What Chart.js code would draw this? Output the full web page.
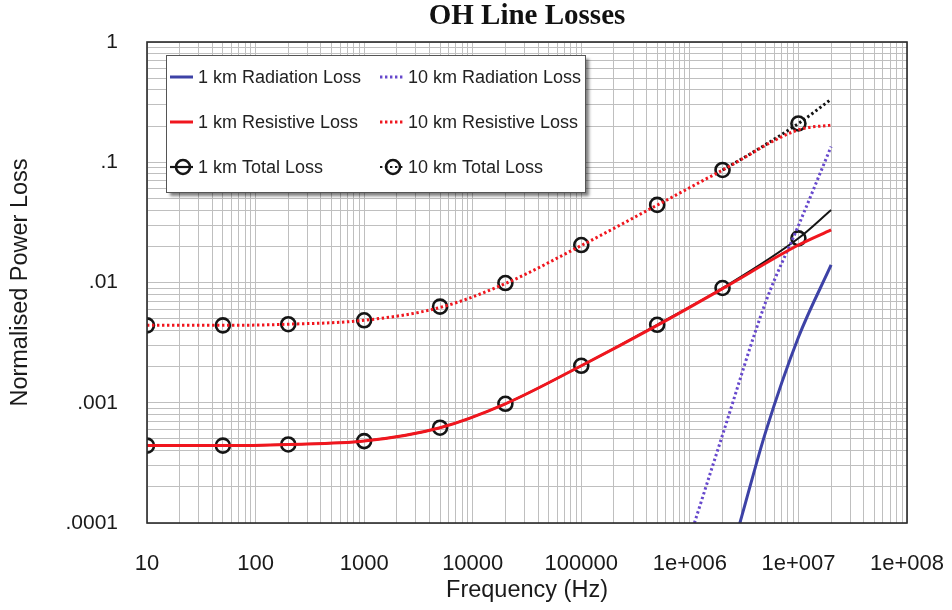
<!DOCTYPE html>
<html>
<head>
<meta charset="utf-8">
<script src="https://cdn.jsdelivr.net/npm/chart.js@4/dist/chart.umd.min.js"></script>
<style>
  html, body { margin: 0; padding: 0; background: #fff; }
  #wrap { width: 952px; height: 610px; }
</style>
</head>
<body>
<div id="wrap"><canvas id="c" width="952" height="610"></canvas></div>
<script>
// Labels
const chartTitle = 'OH Line Losses';
const xTitle = 'Frequency (Hz)';
const yTitle = 'Normalised Power Loss';
const xTickValues = [10, 100, 1000, 1e4, 1e5, 1e6, 1e7, 1e8];
const xTickLabels = ['10', '100', '1000', '10000', '100000', '1e+006', '1e+007', '1e+008'];
const yTickValues = [1e-4, 1e-3, 1e-2, 1e-1, 1];
const yTickLabels = ['.0001', '.001', '.01', '.1', '1'];

// Resistive and total losses (Hz / normalised power)
const freq = [10, 50, 200, 1000, 5000, 20000, 1e5, 5e5, 2e6, 1e7, 2e7];
const resistive1km  = [4.4e-4, 4.4e-4, 4.5e-4, 4.8e-4, 6.2e-4, 9.8e-4, 2.03e-3, 4.4e-3, 8.9e-3, 0.0205, 0.0274];
const total1km      = [4.4e-4, 4.4e-4, 4.5e-4, 4.8e-4, 6.2e-4, 9.8e-4, 2.03e-3, 4.45e-3, 9.0e-3, 0.0233, 0.0401];
const resistive10km = [4.4e-3, 4.4e-3, 4.5e-3, 4.85e-3, 6.2e-3, 9.8e-3, 0.0203, 0.044, 0.086, 0.186, 0.204];
const total10km     = [4.4e-3, 4.4e-3, 4.5e-3, 4.85e-3, 6.3e-3, 9.9e-3, 0.0205, 0.0442, 0.0863, 0.21, 0.334];

// Radiation losses
const radFreq1km  = [2e6, 3e6, 5e6, 1e7, 2e7];
const radiation1km  = [3.1e-5, 1.13e-4, 5.75e-4, 3.5e-3, 0.014];
const radFreq10km = [1e6, 2e6, 5e6, 1e7, 2e7];
const radiation10km = [7.6e-5, 5.4e-4, 6.9e-3, 0.0297, 0.135];

const FONT = "'Liberation Sans', Arial, sans-serif";
const BLUE = '#3d42a6';
const PURPLE = '#6648cc';
const RED = '#f0161e';
const BLACK = '#151515';
const GRID = '#bfbfbf';
const DOT = [2.4, 2.6];

const pts = (xs, ys) => xs.map((x, i) => ({ x: x, y: ys[i] }));

function decadeTicks(min, max) {
  const out = [];
  const e0 = Math.round(Math.log10(min)), e1 = Math.round(Math.log10(max));
  for (let e = e0; e < e1; e++) {
    for (let k = 1; k <= 9; k++) out.push({ value: k * Math.pow(10, e) });
  }
  out.push({ value: max });
  return out;
}
function labelFor(v, values, labels) {
  const i = values.findIndex(t => Math.abs(Math.log10(t) - Math.log10(v)) < 1e-6);
  return i >= 0 ? labels[i] : '';
}
const lastHidden = ctx => (ctx.dataIndex === ctx.dataset.data.length - 1 ? 0 : 7);

const datasets = [
  { label: '1 km Radiation Loss', data: pts(radFreq1km, radiation1km), borderColor: BLUE, borderWidth: 3,
    pointRadius: 0, order: 1, legendCol: 0, legendRow: 0, kind: 'line' },
  { label: '1 km Resistive Loss', data: pts(freq, resistive1km), borderColor: RED, borderWidth: 3,
    pointRadius: 0, order: 2, legendCol: 0, legendRow: 1, kind: 'line' },
  { label: '1 km Total Loss', data: pts(freq, total1km), borderColor: BLACK, borderWidth: 2,
    pointRadius: lastHidden, pointBorderColor: BLACK, pointBorderWidth: 2.6, pointBackgroundColor: 'rgba(0,0,0,0)',
    order: 5, legendCol: 0, legendRow: 2, kind: 'marker' },
  { label: '10 km Radiation Loss', data: pts(radFreq10km, radiation10km), borderColor: PURPLE, borderWidth: 3,
    borderDash: DOT, pointRadius: 0, order: 3, legendCol: 1, legendRow: 0, kind: 'line' },
  { label: '10 km Resistive Loss', data: pts(freq, resistive10km), borderColor: RED, borderWidth: 3,
    borderDash: DOT, pointRadius: 0, order: 4, legendCol: 1, legendRow: 1, kind: 'line' },
  { label: '10 km Total Loss', data: pts(freq, total10km), borderColor: BLACK, borderWidth: 3,
    borderDash: DOT, pointRadius: lastHidden, pointBorderColor: BLACK, pointBorderWidth: 2.6,
    pointBackgroundColor: 'rgba(0,0,0,0)', order: 6, legendCol: 1, legendRow: 2, kind: 'marker',
    // the dotted total only shows where it leaves the resistive curve
    segment: {
      borderColor: s => {
        const a = s.p0DataIndex, b = s.p1DataIndex;
        const same = i => total10km[i] / resistive10km[i] < 1.03;
        return same(a) && same(b) ? 'rgba(0,0,0,0)' : BLACK;
      }
    } }
];

const framePlugin = {
  id: 'frame',
  afterDatasetsDraw(chart) {
    const { ctx, chartArea: a } = chart;
    ctx.save();
    // plot border
    ctx.strokeStyle = '#2a2a2a';
    ctx.lineWidth = 1.6;
    ctx.strokeRect(a.left, a.top, a.right - a.left, a.bottom - a.top);

    // title
    ctx.fillStyle = '#111';
    ctx.font = "bold 29px 'Liberation Serif', 'Times New Roman', serif";
    ctx.textAlign = 'center';
    ctx.textBaseline = 'middle';
    ctx.fillText(chartTitle, (a.left + a.right) / 2, 17);

    // legend box with shadow
    const bx = a.left + 19, by = a.top + 13, bw = 419, bh = 137;
    ctx.save();
    ctx.shadowColor = 'rgba(0,0,0,0.5)';
    ctx.shadowOffsetX = 4;
    ctx.shadowOffsetY = 4;
    ctx.shadowBlur = 3;
    ctx.fillStyle = '#fff';
    ctx.fillRect(bx, by, bw, bh);
    ctx.restore();
    ctx.strokeStyle = '#555';
    ctx.lineWidth = 1;
    ctx.strokeRect(bx + 0.5, by + 0.5, bw, bh);

    const colX = [bx + 4, bx + 214];
    const rowY = [by + 22, by + 67, by + 112];
    ctx.font = '18px ' + FONT;
    ctx.textAlign = 'left';
    ctx.textBaseline = 'middle';
    chart.data.datasets.forEach(ds => {
      const x0 = colX[ds.legendCol], y = rowY[ds.legendRow];
      ctx.save();
      ctx.strokeStyle = ds.borderColor;
      ctx.lineWidth = ds.kind === 'marker' ? 2.2 : 3;
      ctx.setLineDash(ds.borderDash || []);
      ctx.beginPath();
      ctx.moveTo(x0, y);
      ctx.lineTo(x0 + 23, y);
      ctx.stroke();
      if (ds.kind === 'marker') {
        ctx.setLineDash([]);
        ctx.lineWidth = 2.6;
        ctx.beginPath();
        ctx.arc(x0 + 13, y, 7, 0, Math.PI * 2);
        ctx.stroke();
      }
      ctx.restore();
      ctx.fillStyle = '#222';
      ctx.fillText(ds.label, x0 + 28, y + 1);
    });
    ctx.restore();
  }
};

new Chart(document.getElementById('c'), {
  type: 'line',
  data: { datasets: datasets },
  options: {
    responsive: false,
    animation: false,
    devicePixelRatio: 1,
    layout: { padding: { top: 42, right: 45, left: 0, bottom: 0 } },
    elements: { line: { cubicInterpolationMode: 'monotone', fill: false } },
    plugins: { legend: { display: false }, tooltip: { enabled: false }, title: { display: false } },
    scales: {
      x: {
        type: 'logarithmic',
        min: 10, max: 1e8,
        afterBuildTicks: s => { s.ticks = decadeTicks(10, 1e8); },
        afterFit: s => { s.height = 87; s.paddingLeft = 0; s.paddingRight = 0; },
        grid: { color: GRID, lineWidth: 1, drawTicks: false },
        border: { display: false },
        ticks: {
          autoSkip: false, maxRotation: 0, minRotation: 0, padding: 28,
          color: '#1a1a1a', font: { family: FONT, size: 22 },
          callback: v => labelFor(v, xTickValues, xTickLabels)
        },
        title: { display: true, text: xTitle, color: '#1a1a1a',
                 font: { family: FONT, size: 23.5 }, padding: { top: 0, bottom: 5 } }
      },
      y: {
        type: 'logarithmic',
        min: 1e-4, max: 1,
        afterBuildTicks: s => { s.ticks = decadeTicks(1e-4, 1); },
        afterFit: s => { s.width = 147; },
        grid: { color: GRID, lineWidth: 1, drawTicks: false },
        border: { display: false },
        ticks: {
          autoSkip: false, padding: 29,
          color: '#1a1a1a', font: { family: FONT, size: 21 },
          callback: v => labelFor(v, yTickValues, yTickLabels)
        },
        title: { display: true, text: yTitle, color: '#1a1a1a',
                 font: { family: FONT, size: 23.5 }, padding: { top: 6, bottom: 0 } }
      }
    }
  },
  plugins: [framePlugin]
});
</script>
</body>
</html>
